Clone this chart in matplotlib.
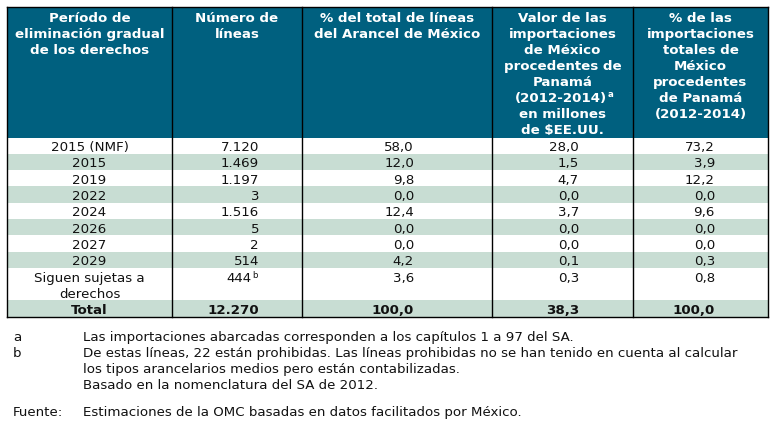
import matplotlib
matplotlib.use("Agg")
import matplotlib.pyplot as plt
from matplotlib.patches import Rectangle

# data
periodos = ["2015 (NMF)", "2015", "2019", "2022", "2024", "2026", "2027", "2029",
            "Siguen sujetas a\nderechos"]
num_lineas = [7120, 1469, 1197, 3, 1516, 5, 2, 514, 444]
pct_lineas = [58.0, 12.0, 9.8, 0.0, 12.4, 0.0, 0.0, 4.2, 3.6]
valor_imp = [28.0, 1.5, 4.7, 0.0, 3.7, 0.0, 0.0, 0.1, 0.3]
pct_imp = [73.2, 3.9, 12.2, 0.0, 9.6, 0.0, 0.0, 0.3, 0.8]
total_label = "Total"
total_lineas = 12270
total_pct_lineas = 100.0
total_valor = 38.3
total_pct_imp = 100.0

headers = [
    "Período de\neliminación gradual\nde los derechos",
    "Número de\nlíneas",
    "% del total de líneas\ndel Arancel de México",
    "Valor de las\nimportaciones\nde México\nprocedentes de\nPanamá\n(2012-2014)\nen millones\nde $EE.UU.",
    "% de las\nimportaciones\ntotales de\nMéxico\nprocedentes\nde Panamá\n(2012-2014)",
]

notas = [
    ("a", "Las importaciones abarcadas corresponden a los capítulos 1 a 97 del SA."),
    ("b", "De estas líneas, 22 están prohibidas. Las líneas prohibidas no se han tenido en cuenta al calcular\n"
          "los tipos arancelarios medios pero están contabilizadas.\n"
          "Basado en la nomenclatura del SA de 2012."),
]
fuente = ("Fuente:", "Estimaciones de la OMC basadas en datos facilitados por México.")


def miles(n):
    return f"{n:,}".replace(",", ".")


def dec(v):
    return f"{v:.1f}".replace(".", ",")


# layout
header_color = "#00607f"
stripe_color = "#c8ddd3"
text_color = "#111111"
fs = 9.6
col_edges = [7, 172, 302, 492, 633, 768]
num_right = [None, 259, 414, 579, 715]
top = 7
header_bottom = 137.5
row_h = 16.3
pitch = 16

fig = plt.figure(figsize=(7.77, 4.25), dpi=100)
ax = fig.add_axes([0, 0, 1, 1])
ax.set_xlim(0, 777)
ax.set_ylim(425, 0)
ax.axis("off")

left, right = col_edges[0], col_edges[-1]

# header
ax.add_patch(Rectangle((left, top), right - left, header_bottom - top,
                       facecolor=header_color, edgecolor="none"))
for i, h in enumerate(headers):
    cx = (col_edges[i] + col_edges[i + 1]) / 2
    for j, line in enumerate(h.split("\n")):
        y = 22 + j * pitch
        if line == "(2012-2014)" and i == 3:
            # superscript a after the years
            ax.text(cx + 45, y, line, ha="right", va="baseline", color="white",
                    fontsize=fs, fontweight="bold")
            ax.text(cx + 45.5, y - 5, "a", ha="left", va="baseline", color="white",
                    fontsize=6.2, fontweight="bold")
        else:
            ax.text(cx, y, line, ha="center", va="baseline", color="white",
                    fontsize=fs, fontweight="bold")

# body rows
rows = list(zip(periodos, num_lineas, pct_lineas, valor_imp, pct_imp))
rows.append((total_label, total_lineas, total_pct_lineas, total_valor, total_pct_imp))
y_top = header_bottom
for r, (per, n, p1, v, p2) in enumerate(rows):
    nlines = per.count("\n") + 1
    h = row_h * nlines + (0 if nlines == 1 else -0.3)
    if r % 2 == 1:
        ax.add_patch(Rectangle((left, y_top), right - left, h,
                               facecolor=stripe_color, edgecolor="none"))
    bold = "bold" if r == len(rows) - 1 else "normal"
    base = y_top + 13.6
    cx = (col_edges[0] + col_edges[1]) / 2
    for j, line in enumerate(per.split("\n")):
        ax.text(cx, base + j * pitch, line, ha="center", va="baseline",
                fontsize=fs, fontweight=bold, color=text_color)
    n_txt = miles(n)
    if per.startswith("Siguen"):
        ax.text(num_right[1] - 7.5, base, n_txt, ha="right", va="baseline",
                fontsize=fs, color=text_color)
        ax.text(num_right[1] - 7, base - 3.6, "b", ha="left", va="baseline",
                fontsize=6.2, color=text_color)
    else:
        ax.text(num_right[1], base, n_txt, ha="right", va="baseline",
                fontsize=fs, fontweight=bold, color=text_color)
    for c, val in zip([2, 3, 4], [p1, v, p2]):
        ax.text(num_right[c], base, dec(val), ha="right", va="baseline",
                fontsize=fs, fontweight=bold, color=text_color)
    y_top += h

table_bottom = y_top

# borders
lw = 1.0
for x in col_edges:
    ax.plot([x, x], [top, table_bottom], color="black", lw=lw, solid_capstyle="projecting")
ax.plot([left, right], [top, top], color="black", lw=lw)
ax.plot([left, right], [table_bottom, table_bottom], color="black", lw=lw)

# notes
y = 341
for mark, txt in notas:
    ax.text(13, y, mark, ha="left", va="baseline", fontsize=fs, color=text_color)
    for line in txt.split("\n"):
        ax.text(83, y, line, ha="left", va="baseline", fontsize=fs, color=text_color)
        y += pitch
ax.text(13, 416, fuente[0], ha="left", va="baseline", fontsize=fs, color=text_color)
ax.text(83, 416, fuente[1], ha="left", va="baseline", fontsize=fs, color=text_color)

fig.savefig("out.png", dpi=100)
